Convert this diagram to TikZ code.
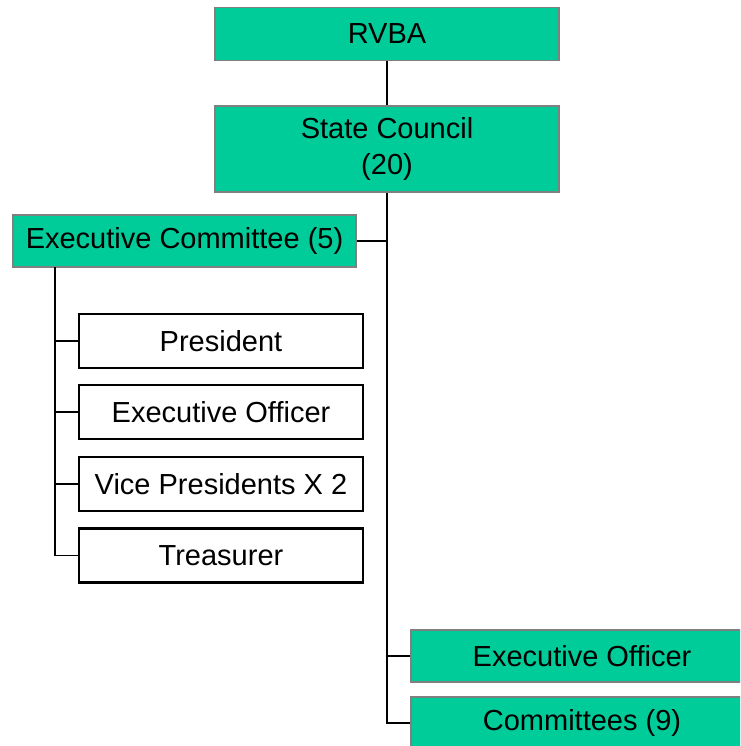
\documentclass[tikz,border=0pt]{standalone}
\usepackage{fontspec}
\setmainfont{Liberation Sans}
\definecolor{boxgreen}{RGB}{0,204,153}
\definecolor{boxgray}{RGB}{128,128,128}
\begin{document}
\begin{tikzpicture}[x=1pt,y=-1pt,
  greenbox/.style={draw=boxgray,line width=1.5pt,fill=boxgreen,inner sep=0pt,
    minimum width=#1,font=\fontsize{29}{36}\selectfont,align=center},
  whitebox/.style={draw=black,line width=2.6pt,fill=white,inner sep=0pt,
    minimum width=284pt,minimum height=54pt,font=\fontsize{29}{36}\selectfont},
  conn/.style={draw=black,line width=1.6pt}]
\useasboundingbox (0,0) rectangle (740,746);
\clip (0,0) rectangle (740,746);
% connectors
\node[greenbox=344pt,minimum height=53pt] (rvba) at (387,34) {RVBA};
\node[greenbox=344pt,minimum height=86pt] (sc) at (387,149) {State Council\\(20)};
\node[greenbox=343pt,minimum height=52pt] (ec) at (184.5,241) {Executive Committee (5)};
\node[whitebox] (pres) at (221,341) {President};
\node[whitebox] (eo1) at (221,412) {Executive Officer};
\node[whitebox] (vp) at (221,484) {Vice Presidents X 2};
\node[whitebox] (tr) at (221,555.5) {Treasurer};
\node[greenbox=342pt,minimum height=52pt] (eo2) at (582,656) {Executive Officer};
\node[greenbox=342pt,minimum height=52pt] (com) at (582,723) {Committees (9)};
\coordinate (ecs) at (55,267);
\begin{scope}[on background layer/.try]
\end{scope}
\draw[conn,line width=1.3pt] (rvba) -- (sc);
\draw[conn] (sc.south) -- (sc.south |- com.west) -- (com.west);
\draw[conn] (ec.east) -- (ec.east -| sc.south);
\draw[conn] (eo2.west) -- (eo2.west -| sc.south);
\draw[conn] (ecs) |- (tr.west);
\draw[conn] (pres.west) -- (pres.west -| ecs);
\draw[conn] (eo1.west) -- (eo1.west -| ecs);
\draw[conn] (vp.west) -- (vp.west -| ecs);
\end{tikzpicture}
\end{document}
